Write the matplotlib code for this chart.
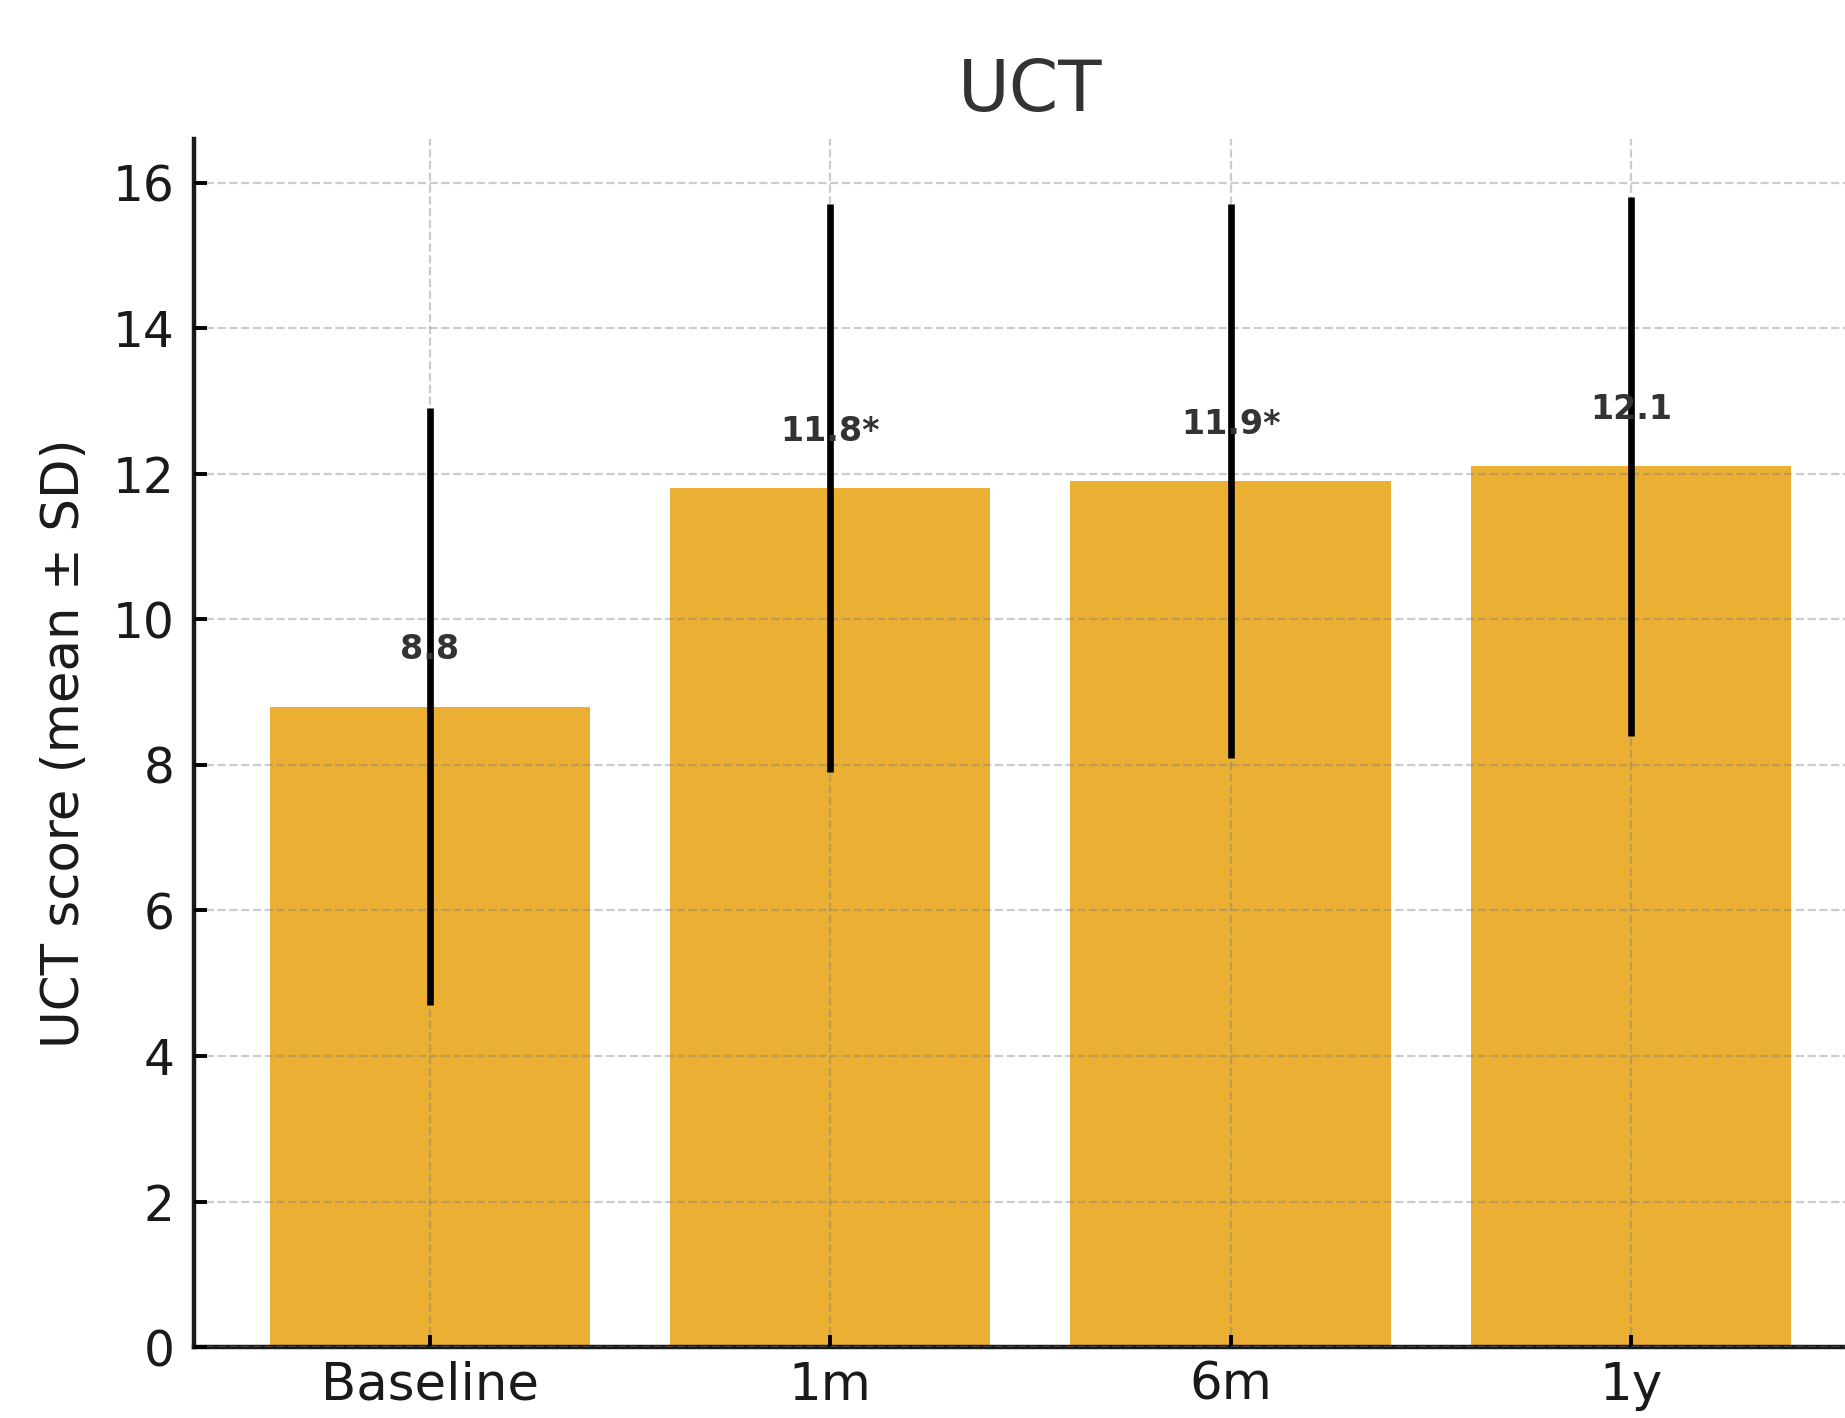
import matplotlib
matplotlib.use("Agg")
import matplotlib.pyplot as plt
import numpy as np

# data
timepoints = ["Baseline", "1m", "6m", "1y"]
uct_mean = [8.8, 11.8, 11.9, 12.1]
uct_sd = [4.1, 3.9, 3.8, 3.7]
bar_labels = ["8.8", "11.8*", "11.9*", "12.1"]

bar_color = "#EAAF33"

fig = plt.figure(figsize=(9.225, 7.09), dpi=200)
ax = fig.add_axes([0.105, 0.050, 0.907, 0.852])

x = np.arange(len(timepoints))
ax.bar(x, uct_mean, width=0.8, color=bar_color, zorder=1)
ax.errorbar(x, uct_mean, yerr=uct_sd, fmt="none", ecolor="black",
            elinewidth=2.4, capsize=0, zorder=3)

##value labels above each bar
for xi, h, lab in zip(x, uct_mean, bar_labels):
    ax.text(xi, h + 0.78, lab, ha="center", va="center", fontsize=12,
            fontweight="bold", color="#333333", zorder=4)

ax.set_xticks(x)
ax.set_xticklabels(timepoints)
ax.set_yticks(np.arange(0, 17, 2))
ax.set_ylim(0, 16.6)
ax.set_xlim(-0.59, 3.59)

ax.set_title("UCT", fontsize=25.5, color="#333333", pad=10)
ax.set_ylabel("UCT score (mean \u00b1 SD)", fontsize=18.5, color="#1a1a1a", labelpad=8)

ax.tick_params(axis="both", direction="in", length=4.5, width=1.4,
               labelcolor="#1a1a1a")
ax.tick_params(axis="y", pad=7, labelsize=17.5)
ax.tick_params(axis="x", pad=5, labelsize=18.5)

ax.grid(True, linestyle="--", linewidth=0.8, color="gray", alpha=0.4, zorder=2)
ax.set_axisbelow(False)

for side in ["top", "right"]:
    ax.spines[side].set_visible(False)
for side in ["left", "bottom"]:
    ax.spines[side].set_linewidth(1.6)
    ax.spines[side].set_color("#1a1a1a")

fig.savefig("out.png", dpi=200)
